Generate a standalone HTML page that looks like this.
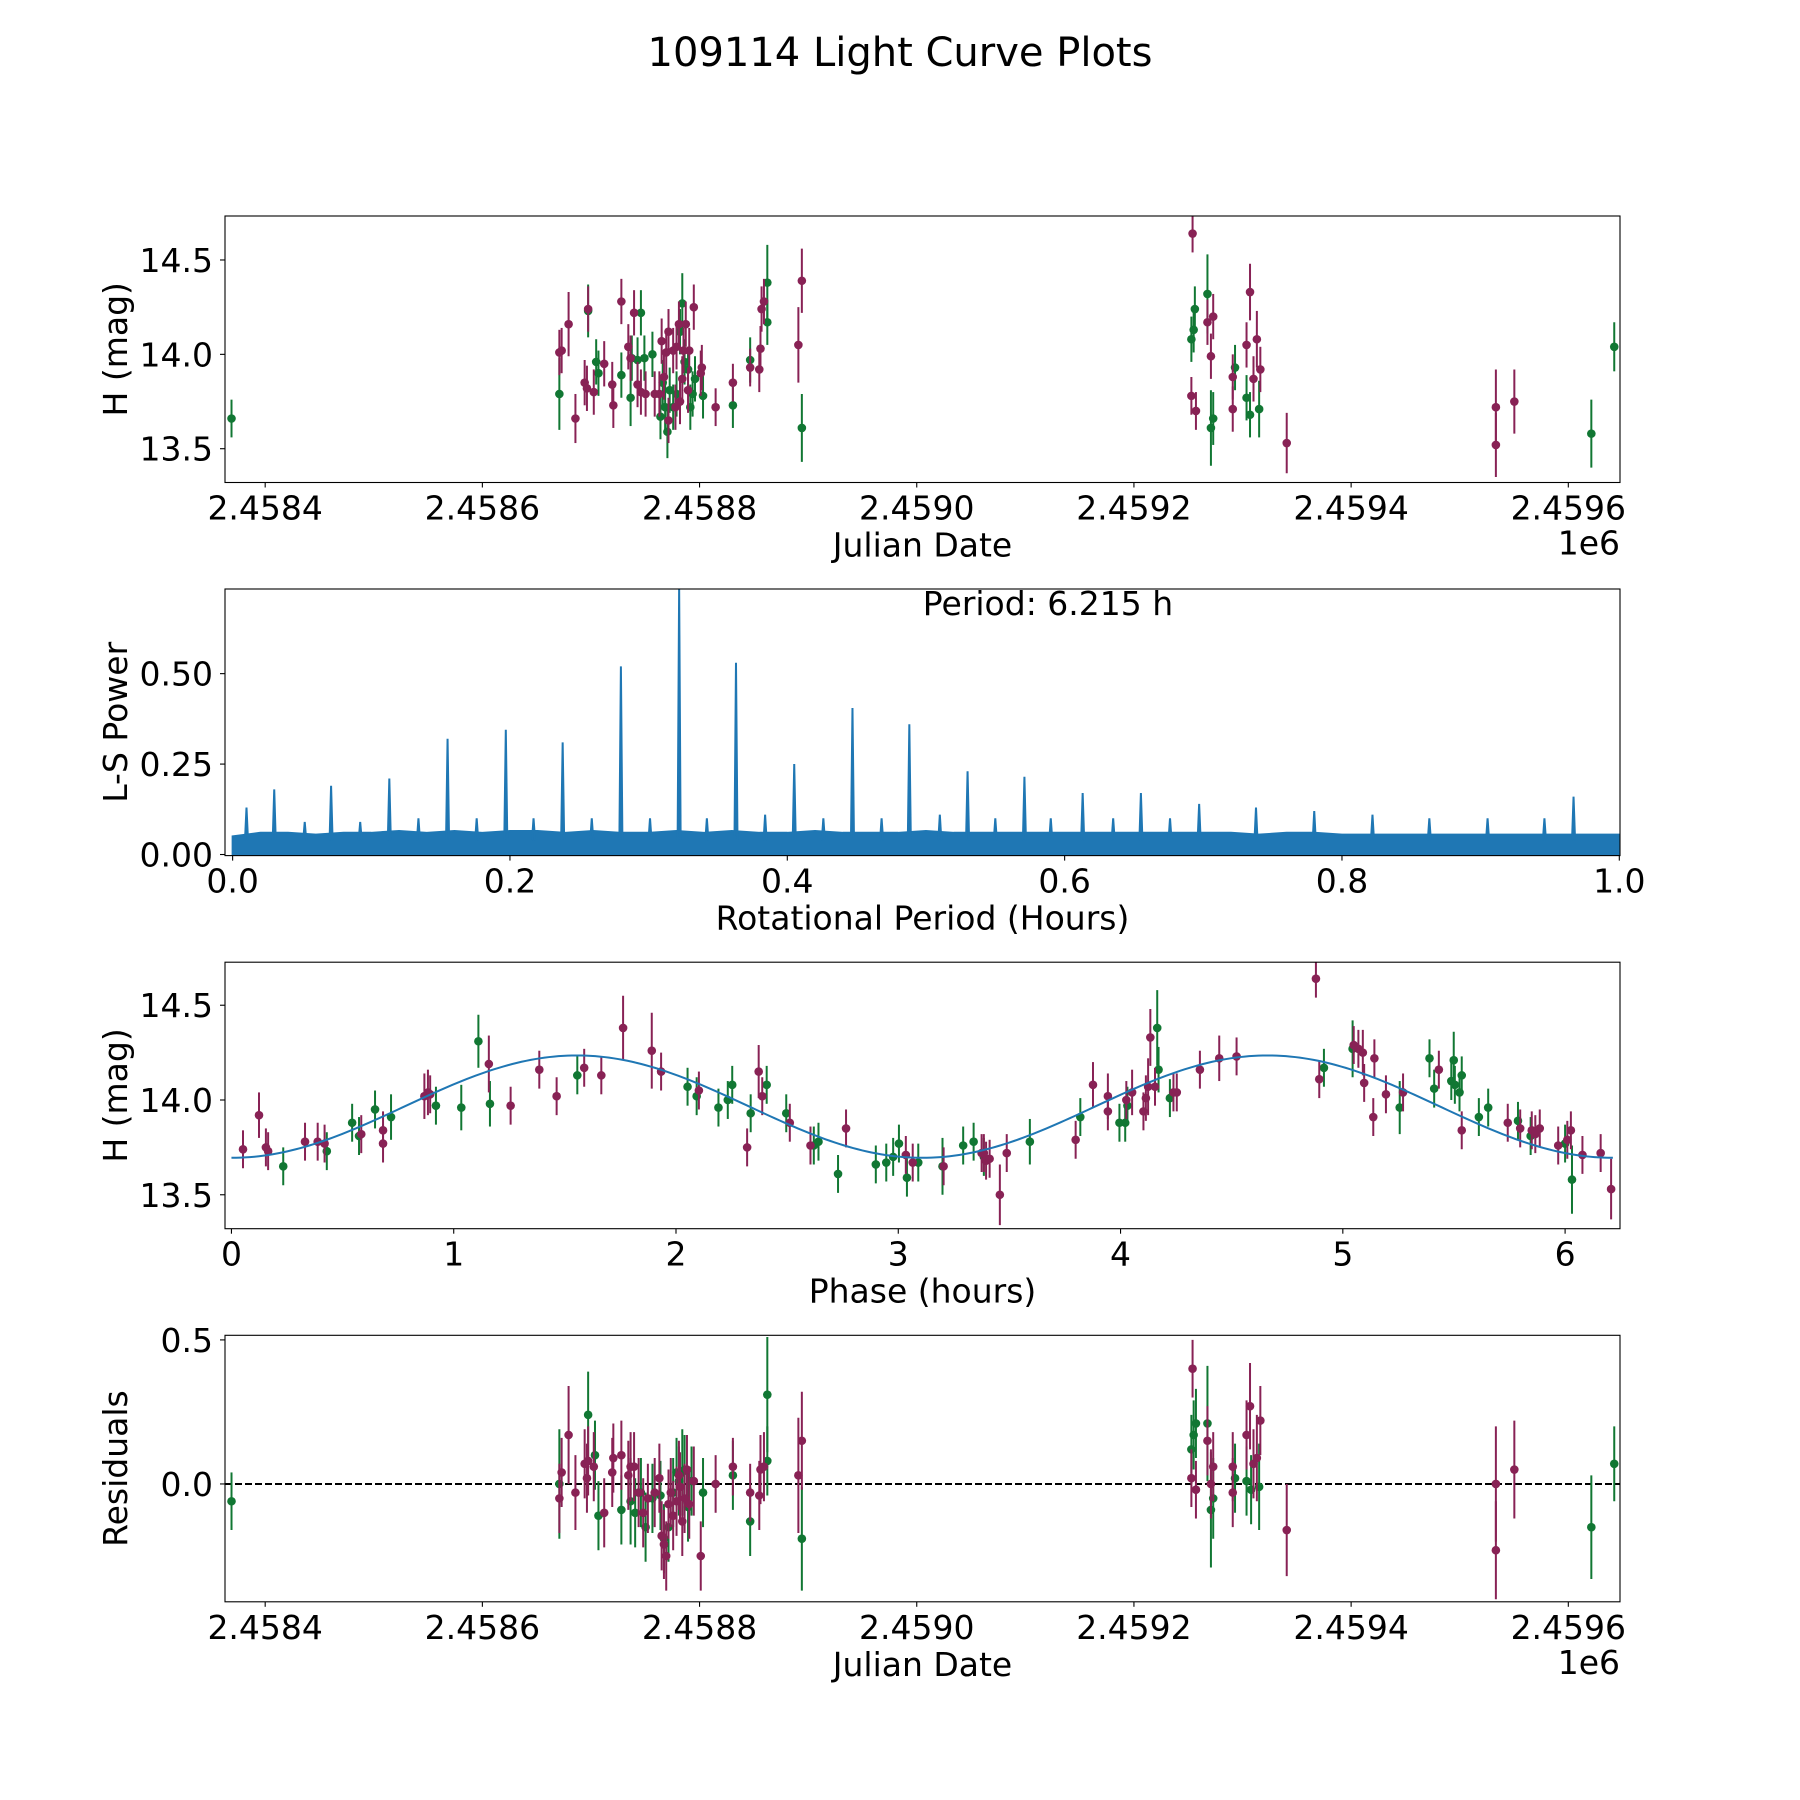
<!DOCTYPE html>
<html><head><meta charset="utf-8"><title>109114 Light Curve Plots</title>
<style>html,body{margin:0;padding:0;background:#fff}svg{display:block}text{font-family:"DejaVu Sans","Liberation Sans",sans-serif;fill:#000}</style>
</head><body>
<svg id="fig" width="1800" height="1800" viewBox="0 0 1800 1800" xmlns="http://www.w3.org/2000/svg">
<rect width="1800" height="1800" fill="#fff"/>
<text x="900" y="66" font-size="40" text-anchor="middle">109114 Light Curve Plots</text>
</svg>
<script>
// ---------- DATA ----------
const JD0 = 2458400;
// panel 1: [days since JD0, mag, err]
const lcGreen = [[-31,13.66,0.1],[270.9,13.79,0.19],[297.4,14.23,0.14],[304.8,13.96,0.12],[306.9,13.90,0.12],[328.0,13.89,0.12],[336.5,13.77,0.15],[337.6,13.98,0.12],[342.9,13.97,0.12],[346.0,14.22,0.12],[349.2,13.98,0.12],[356.6,14.00,0.12],[364.0,13.67,0.12],[366.1,13.85,0.12],[368.3,13.72,0.12],[370.4,13.59,0.14],[372.5,13.81,0.12],[375.7,13.72,0.12],[378.8,13.79,0.12],[382.0,14.12,0.12],[384.1,14.27,0.16],[386.2,13.96,0.12],[389.4,13.92,0.12],[391.5,13.72,0.12],[393.6,13.79,0.12],[395.8,13.87,0.12],[403.2,13.78,0.12],[430.7,13.73,0.12],[446.6,13.97,0.12],[462.4,14.17,0.12],[462.4,14.38,0.2],[494.2,13.61,0.18],[852.9,14.08,0.12],[855.0,14.13,0.12],[856.1,14.24,0.12],[867.7,14.32,0.21],[870.9,13.61,0.2],[873.0,13.66,0.14],[893.1,13.93,0.12],[903.7,13.77,0.12],[906.9,13.68,0.12],[915.3,13.71,0.15],[1221.2,13.58,0.18],[1242.3,14.04,0.13]];
const lcMaroon = [[270.9,14.01,0.12],[273.0,14.02,0.12],[279.4,14.16,0.17],[285.7,13.66,0.13],[294.2,13.85,0.12],[296.3,13.82,0.12],[297.4,14.24,0.12],[302.6,13.80,0.12],[312.2,13.95,0.12],[319.6,13.84,0.12],[320.6,13.73,0.12],[328.0,14.28,0.12],[334.4,14.04,0.12],[336.5,13.98,0.12],[339.7,14.22,0.12],[342.9,13.84,0.12],[346.0,13.80,0.12],[350.3,13.79,0.12],[358.7,13.79,0.12],[363.0,13.79,0.12],[365.1,14.07,0.12],[367.2,13.88,0.12],[369.3,14.01,0.12],[371.4,14.12,0.12],[371.4,13.65,0.12],[375.7,14.02,0.12],[377.8,13.72,0.12],[378.8,14.04,0.12],[381.0,14.16,0.12],[382.0,13.75,0.12],[384.1,13.87,0.12],[385.2,14.02,0.12],[387.3,14.16,0.12],[389.4,13.81,0.12],[390.5,14.02,0.12],[394.7,14.25,0.12],[401.1,13.90,0.12],[402.1,13.93,0.12],[414.8,13.72,0.1],[430.7,13.85,0.1],[446.6,13.93,0.1],[455.0,13.92,0.12],[456.1,14.03,0.12],[457.1,14.24,0.12],[459.3,14.28,0.12],[491.0,14.05,0.2],[494.2,14.39,0.17],[854.0,14.64,0.1],[852.9,13.78,0.1],[857.1,13.70,0.1],[867.7,14.17,0.12],[870.9,13.99,0.12],[873.0,14.20,0.12],[891.0,13.71,0.12],[891.0,13.88,0.12],[903.7,14.05,0.12],[906.9,14.33,0.15],[910.1,13.87,0.12],[913.2,14.08,0.15],[916.4,13.92,0.12],[940.7,13.53,0.16],[1133.3,13.72,0.2],[1133.3,13.52,0.17],[1150.3,13.75,0.17]];
// panel 2: periodogram
const noiseEnvelope = [0.05,0.06,0.06,0.055,0.06,0.06,0.065,0.06,0.065,0.06,0.065,0.065,0.06,0.065,0.06,0.06,0.065,0.06,0.065,0.06,0.06,0.065,0.06,0.06,0.06,0.065,0.06,0.06,0.06,0.06,0.06,0.06,0.06,0.06,0.06,0.06,0.06,0.055,0.06,0.06,0.055,0.055,0.055,0.055,0.055,0.055,0.055,0.055,0.055,0.055,0.055];
const peakPeriods = [0.010,0.030,0.071,0.113,0.155,0.197,0.238,0.280,0.322,0.363,0.405,0.447,0.488,0.530,0.571,0.613,0.655,0.697,0.738,0.780,0.822,0.863,0.905,0.946,0.967,0.052,0.092,0.134,0.176,0.217,0.259,0.301,0.342,0.384,0.426,0.468,0.51,0.55,0.59,0.635,0.676];
const peakPowers =  [0.13,0.18,0.19,0.21,0.32,0.345,0.31,0.52,0.74,0.53,0.25,0.405,0.36,0.23,0.215,0.17,0.17,0.14,0.13,0.12,0.11,0.10,0.10,0.10,0.16,0.09,0.09,0.1,0.1,0.1,0.1,0.1,0.1,0.11,0.1,0.1,0.11,0.1,0.1,0.1,0.1];
// panel 3: phase-folded [phase h, mag, err]
const phGreen = [[0.233,13.65,0.1],[0.429,13.73,0.1],[0.543,13.88,0.1],[0.574,13.81,0.1],[0.646,13.95,0.1],[0.718,13.91,0.12],[0.920,13.97,0.1],[1.034,13.96,0.12],[1.111,14.31,0.14],[1.163,13.98,0.12],[1.556,14.13,0.1],[2.052,14.07,0.1],[2.093,14.02,0.1],[2.191,13.96,0.1],[2.233,14.00,0.1],[2.253,14.08,0.1],[2.336,13.93,0.1],[2.408,14.08,0.1],[2.496,13.93,0.1],[2.620,13.76,0.1],[2.641,13.78,0.1],[2.729,13.61,0.1],[2.899,13.66,0.1],[2.946,13.67,0.1],[2.977,13.70,0.1],[3.003,13.77,0.1],[3.039,13.59,0.1],[3.090,13.67,0.1],[3.199,13.65,0.15],[3.292,13.76,0.1],[3.339,13.78,0.1],[3.385,13.70,0.1],[3.592,13.78,0.12],[3.819,13.91,0.1],[3.995,13.88,0.1],[4.021,13.88,0.1],[4.031,13.97,0.1],[4.165,14.38,0.2],[4.171,14.16,0.12],[4.222,14.01,0.1],[4.915,14.17,0.1],[5.044,14.27,0.15],[5.256,13.96,0.14],[5.390,14.22,0.1],[5.411,14.06,0.1],[5.488,14.10,0.1],[5.499,14.21,0.15],[5.504,14.08,0.1],[5.525,14.04,0.1],[5.535,14.13,0.1],[5.612,13.91,0.1],[5.654,13.96,0.1],[5.788,13.89,0.1],[5.845,13.81,0.1],[6.000,13.77,0.1],[6.031,13.58,0.18]];
const phMaroon = [[0.052,13.74,0.1],[0.124,13.92,0.12],[0.155,13.75,0.1],[0.165,13.73,0.1],[0.331,13.78,0.1],[0.388,13.78,0.1],[0.419,13.77,0.1],[0.584,13.82,0.1],[0.682,13.84,0.1],[0.682,13.77,0.1],[0.868,14.02,0.12],[0.884,14.04,0.12],[0.894,14.03,0.1],[1.158,14.19,0.15],[1.256,13.97,0.1],[1.385,14.16,0.1],[1.463,14.02,0.1],[1.587,14.17,0.1],[1.664,14.13,0.1],[1.762,14.38,0.17],[1.891,14.26,0.2],[1.933,14.15,0.1],[2.103,14.05,0.1],[2.320,13.75,0.1],[2.372,14.15,0.14],[2.388,14.02,0.1],[2.512,13.88,0.1],[2.605,13.76,0.1],[2.765,13.85,0.1],[3.034,13.71,0.1],[3.065,13.67,0.1],[3.204,13.65,0.1],[3.375,13.72,0.1],[3.385,13.72,0.1],[3.395,13.68,0.1],[3.411,13.69,0.1],[3.457,13.50,0.16],[3.488,13.72,0.1],[3.798,13.79,0.1],[3.876,14.08,0.12],[3.943,14.02,0.12],[3.943,13.94,0.1],[4.026,14.00,0.1],[4.052,14.04,0.12],[4.103,13.94,0.1],[4.114,14.01,0.12],[4.124,14.07,0.15],[4.134,14.33,0.15],[4.155,14.07,0.1],[4.238,14.04,0.1],[4.253,14.04,0.1],[4.357,14.16,0.1],[4.444,14.22,0.12],[4.522,14.23,0.1],[4.879,14.64,0.1],[4.894,14.11,0.1],[5.049,14.29,0.1],[5.070,14.27,0.1],[5.090,14.25,0.12],[5.096,14.09,0.1],[5.137,13.91,0.1],[5.142,14.22,0.1],[5.194,14.03,0.1],[5.271,14.04,0.1],[5.432,14.16,0.1],[5.535,13.84,0.1],[5.742,13.88,0.1],[5.798,13.85,0.1],[5.850,13.84,0.1],[5.866,13.82,0.1],[5.886,13.85,0.1],[5.969,13.76,0.1],[6.010,13.79,0.1],[6.026,13.84,0.1],[6.078,13.71,0.1],[6.160,13.72,0.1],[6.207,13.53,0.16]];
// fit: mean, amplitude, period (h)
const fitMean = [13.965];
const fitAmp = [0.27];
const fitPeriod = [6.215];
// panel 4: residuals [days since JD0, residual, err]
const resGreen = [[-31,-0.06,0.1],[270.9,0.00,0.19],[297.4,0.24,0.15],[303.7,0.10,0.12],[306.9,-0.11,0.12],[328.0,-0.09,0.12],[336.5,-0.06,0.15],[340.7,-0.10,0.12],[346.0,-0.03,0.12],[350.3,-0.15,0.12],[356.6,-0.05,0.12],[364.0,-0.04,0.12],[367.2,-0.19,0.12],[371.4,-0.15,0.12],[375.7,-0.03,0.12],[378.8,0.04,0.12],[381.0,0.01,0.12],[384.1,0.04,0.15],[386.2,0.05,0.12],[389.4,-0.08,0.12],[392.6,0.01,0.12],[403.2,-0.03,0.12],[430.7,0.03,0.12],[446.6,-0.13,0.12],[462.4,0.08,0.12],[462.4,0.31,0.2],[494.2,-0.19,0.18],[852.9,0.12,0.12],[855.0,0.17,0.12],[857.1,0.21,0.12],[867.7,0.21,0.2],[870.9,-0.09,0.2],[873.0,-0.05,0.14],[893.1,0.02,0.12],[903.7,0.01,0.12],[907.9,-0.02,0.12],[915.3,-0.01,0.15],[1221.2,-0.15,0.18],[1242.3,0.07,0.13]];
const resMaroon = [[270.9,-0.05,0.12],[273.0,0.04,0.12],[279.4,0.17,0.17],[285.7,-0.03,0.13],[294.2,0.07,0.12],[296.3,0.02,0.12],[297.4,0.08,0.12],[302.6,0.06,0.12],[312.2,-0.10,0.12],[319.6,0.04,0.12],[320.6,0.09,0.12],[328.0,0.10,0.12],[334.4,0.03,0.12],[336.5,0.06,0.12],[339.7,0.06,0.12],[343.9,-0.03,0.12],[348.1,-0.10,0.12],[352.4,-0.05,0.12],[358.7,-0.03,0.12],[363.0,0.02,0.12],[365.1,-0.18,0.12],[367.2,-0.21,0.12],[369.3,-0.25,0.12],[371.4,-0.07,0.12],[373.5,-0.03,0.12],[375.7,-0.11,0.12],[378.8,-0.06,0.12],[381.0,0.03,0.12],[382.0,-0.01,0.12],[384.1,-0.13,0.12],[386.2,-0.05,0.12],[388.4,0.05,0.12],[390.5,-0.07,0.12],[394.7,0.01,0.12],[401.1,-0.25,0.12],[414.8,0.00,0.1],[430.7,0.06,0.1],[446.6,-0.03,0.1],[455.0,-0.04,0.12],[456.1,0.05,0.12],[459.3,0.06,0.12],[491.0,0.03,0.2],[494.2,0.15,0.17],[854.0,0.40,0.1],[852.9,0.02,0.1],[857.1,-0.02,0.1],[867.7,0.15,0.12],[870.9,0.00,0.12],[873.0,0.06,0.12],[891.0,0.06,0.12],[891.0,-0.03,0.12],[903.7,0.17,0.12],[906.9,0.27,0.15],[910.1,0.07,0.12],[913.2,0.09,0.15],[916.4,0.22,0.12],[940.7,-0.16,0.16],[1133.3,0.00,0.2],[1133.3,-0.23,0.17],[1150.3,0.05,0.17]];
// tick labels
const jdTicks = [0,200,400,600,800,1000,1200];
const jdTickLabels = ["2.4584","2.4586","2.4588","2.4590","2.4592","2.4594","2.4596"];
const magTicks = [13.5,14.0,14.5];
const magTickLabels = ["13.5","14.0","14.5"];
const perTicks = [0,0.2,0.4,0.6,0.8,1.0];
const perTickLabels = ["0.0","0.2","0.4","0.6","0.8","1.0"];
const powTicks = [0,0.25,0.5];
const powTickLabels = ["0.00","0.25","0.50"];
const phTicks = [0,1,2,3,4,5,6];
const phTickLabels = ["0","1","2","3","4","5","6"];
const resTicks = [0,0.5];
const resTickLabels = ["0.0","0.5"];

// ---------- DRAWING ----------
const NS = "http://www.w3.org/2000/svg";
const svg = document.getElementById("fig");
const GREEN = "#117733", MAROON = "#882255", BLUE = "#1f77b4";
const L = 225, R = 1620;
function mk(tag, attrs, parent) { const e = document.createElementNS(NS, tag); for (const k in attrs) e.setAttribute(k, attrs[k]); (parent || svg).appendChild(e); return e; }
function scale(d0, d1, r0, r1) { return v => r0 + (v - d0) / (d1 - d0) * (r1 - r0); }

function axes(name, top, bot, xd, yd, xt, xtl, yt, ytl, xlabel, ylabel, extra) {
  const g = mk("g", {});
  
  
  const x = scale(xd[0], xd[1], L, R), y = scale(yd[0], yd[1], bot, top);
  const plot = mk("g", {}, g);
  
  
  const clipId = name + "-clip";
  const cp = mk("clipPath", {id: clipId}, g);
  mk("rect", {x: L, y: top, width: R - L, height: bot - top}, cp);
  plot.setAttribute("clip-path", "url(#" + clipId + ")");
  const tg = mk("g", {}, g);
  
  
  xt.forEach((v, i) => {
    const px = x(v);
    mk("line", {x1: px, x2: px, y1: bot, y2: bot + 5, stroke: "#000", "stroke-width": 1.1}, tg);
    const t = mk("text", {x: px, y: bot + 37, "font-size": 33, "text-anchor": "middle"}, tg);
    
    
    t.textContent = xtl[i];
  });
  const yg = mk("g", {}, g);
  
  
  yt.forEach((v, i) => {
    const py = y(v);
    mk("line", {x1: L - 5, x2: L, y1: py, y2: py, stroke: "#000", "stroke-width": 1.1}, yg);
    const t = mk("text", {x: L - 12, y: py + 12, "font-size": 33, "text-anchor": "end"}, yg);
    
    
    t.textContent = ytl[i];
  });
  const xl = mk("text", {x: (L + R) / 2, y: bot + 74, "font-size": 33, "text-anchor": "middle"}, g);
  
  
  xl.textContent = xlabel;
  const cy = (top + bot) / 2;
  const yl = mk("text", {x: 127, y: cy, "font-size": 33, "text-anchor": "middle", transform: "rotate(-90 127 " + cy + ")"}, g);
  
  
  yl.textContent = ylabel;
  if (extra) {
    const ex = mk("text", {x: R, y: bot + 72, "font-size": 33, "text-anchor": "end"}, g);
    
    
    ex.textContent = extra;
  }
  const fr = mk("rect", {x: L, y: top, width: R - L, height: bot - top, fill: "none", stroke: "#000", "stroke-width": 1.1}, g);
  
  
  return {x, y, plot};
}

function errpts(ax, data, color, label) {
  const g = mk("g", {}, ax.plot);
  
  
  data.forEach(p => {
    const px = ax.x(p[0]);
    mk("line", {x1: px, x2: px, y1: ax.y(p[1] - p[2]), y2: ax.y(p[1] + p[2]), stroke: color, "stroke-width": 2}, g);
  });
  data.forEach(p => {
    const c = mk("circle", {cx: ax.x(p[0]), cy: ax.y(p[1]), r: 4.3, fill: color}, g);
    
    
  });
}

// Panel 1
const a1 = axes("light-curve-panel", 216, 482.5, [-37.0, 1247.6], [13.321, 14.733], jdTicks, jdTickLabels, magTicks, magTickLabels, "Julian Date", "H (mag)", "1e6");
errpts(a1, lcGreen, GREEN, "green-band-points");
errpts(a1, lcMaroon, MAROON, "maroon-band-points");

// Panel 2
const a2 = axes("periodogram-panel", 589, 855.6, [-0.0055, 1.0005], [-0.003, 0.734], perTicks, perTickLabels, powTicks, powTickLabels, "Rotational Period (Hours)", "L-S Power");
{
  const n = noiseEnvelope.length;
  let d = "M" + a2.x(0) + "," + a2.y(0);
  noiseEnvelope.forEach((v, i) => { d += " L" + a2.x(i / (n - 1)) + "," + a2.y(v); });
  d += " L" + a2.x(1) + "," + a2.y(0) + " Z";
  const area = mk("path", {d: d, fill: BLUE, stroke: BLUE, "stroke-width": 2}, a2.plot);
  
  
  peakPeriods.forEach((p, i) => {
    const px = a2.x(p);
    const pk = mk("path", {d: "M" + (px - 1.5) + "," + a2.y(0.04) + " L" + px + "," + a2.y(peakPowers[i]) + " L" + (px + 1.5) + "," + a2.y(0.04), fill: BLUE, stroke: BLUE, "stroke-width": 2}, a2.plot);
    
    
  });
  const pt = mk("text", {x: 1048, y: 615, "font-size": 33, "text-anchor": "middle"});
  
  
  pt.textContent = "Period: " + fitPeriod[0].toFixed(3) + " h";
}

// Panel 3
const a3 = axes("phase-panel", 962.2, 1228.7, [-0.029, 6.247], [13.321, 14.727], phTicks, phTickLabels, magTicks, magTickLabels, "Phase (hours)", "H (mag)");
errpts(a3, phGreen, GREEN, "phase-green-points");
errpts(a3, phMaroon, MAROON, "phase-maroon-points");
{
  let d = "";
  for (let i = 0; i <= 300; i++) {
    const ph = fitPeriod[0] * i / 300;
    const m = fitMean[0] - fitAmp[0] * Math.cos(4 * Math.PI * ph / fitPeriod[0]);
    d += (i ? " L" : "M") + a3.x(ph) + "," + a3.y(m);
  }
  const fit = mk("path", {d: d, fill: "none", stroke: BLUE, "stroke-width": 2}, a3.plot);
  
  
}

// Panel 4
const a4 = axes("residuals-panel", 1335.3, 1601.8, [-37.0, 1247.6], [-0.409, 0.516], jdTicks, jdTickLabels, resTicks, resTickLabels, "Julian Date", "Residuals", "1e6");
{
  const zl = mk("line", {x1: L, x2: R, y1: a4.y(0), y2: a4.y(0), stroke: "#000", "stroke-width": 2, "stroke-dasharray": "7,3"}, a4.plot);
  
  
}
errpts(a4, resGreen, GREEN, "residual-green-points");
errpts(a4, resMaroon, MAROON, "residual-maroon-points");
</script>
</body></html>
